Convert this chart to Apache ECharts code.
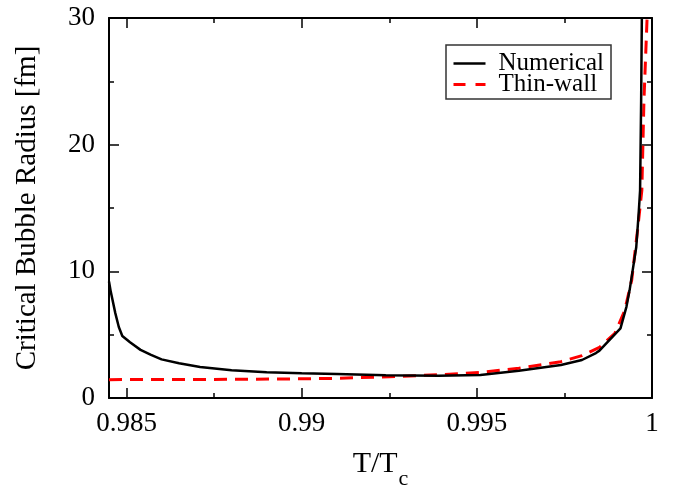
<!DOCTYPE html>
<html><head><meta charset="utf-8">
<script src="https://cdn.jsdelivr.net/npm/echarts@6/dist/echarts.min.js"></script>
<style>html,body{margin:0;padding:0;background:#fff}#c{width:675px;height:487px}</style>
</head><body><div id="c"></div>
<script>
const xMajorTicks = [0.985, 0.99, 0.995, 1];
const xMinorTicks = [0.9875, 0.9925, 0.9975];
const seriesNames = ['Numerical', 'Thin-wall'];
const numericalT = [0.9845,0.98455,0.98468,0.98478,0.98488,0.9851,0.9854,0.9857,0.986,0.9865,0.9871,0.988,0.989,0.990,0.991,0.9924,0.9939,0.9951,0.9962,0.9974,0.998,0.9984,0.9985,0.9991,0.99927,0.99936,0.99955,0.99962,0.99966,0.99969,0.99971];
const numericalR = [9.2,8.4,6.7,5.6,4.9,4.4,3.8,3.4,3.05,2.75,2.45,2.2,2.04,1.95,1.89,1.79,1.75,1.82,2.15,2.6,3.0,3.55,3.74,5.5,7.2,8.5,11.9,14.6,16.4,23.5,30];
const thinT = [0.9845,0.9871,0.9896,0.991,0.9925,0.994,0.9951,0.9962,0.9974,0.998,0.9985,0.99894,0.99922,0.99942,0.99959,0.99971,0.99977,0.99986];
const thinR = [1.45,1.46,1.5,1.55,1.68,1.85,2.02,2.35,2.87,3.35,4.0,5.1,6.9,9.3,13.3,16.4,23.5,30];

const font = 'Liberation Serif';
const chart = echarts.init(document.getElementById('c'), null, {renderer: 'canvas'});
const X0 = 0.9845, X1 = 1;
function xAx(pos, ticks, len, showLine, showLabel) {
  return {
    type: 'value', position: pos, min: X0, max: X1, gridIndex: 0,
    axisLine: {show: showLine, onZero: false, lineStyle: {color: '#000', width: 2}},
    axisTick: {show: true, inside: true, length: len, customValues: ticks, lineStyle: {color: '#000', width: 1.5}},
    axisLabel: {show: showLabel, customValues: ticks, color: '#000', fontFamily: font, fontSize: 27, margin: 12,
      formatter: v => String(+v.toFixed(4))},
    splitLine: {show: false}
  };
}
const xAxes = [
  Object.assign(xAx('bottom', xMajorTicks, 10, true, true), {
    name: '{t|T/T}{s|c}', nameLocation: 'middle', nameGap: 51,
    nameTextStyle: {color: '#000', fontFamily: font, fontSize: 30,
      rich: {
        t: {fontFamily: font, fontSize: 30, lineHeight: 30, verticalAlign: 'top', color: '#000'},
        s: {fontFamily: font, fontSize: 22, lineHeight: 22, verticalAlign: 'top', padding: [19, 0, 0, 1], color: '#000'}
      }}
  }),
  xAx('bottom', xMinorTicks, 5, false, false),
  xAx('top', xMajorTicks, 10, true, false),
  xAx('top', xMinorTicks, 5, false, false)
];
function yAx(pos, showLabel) {
  return {
    type: 'value', position: pos, min: 0, max: 30, interval: 10,
    axisLine: {show: true, onZero: false, lineStyle: {color: '#000', width: 2}},
    axisTick: {show: true, inside: true, length: 10, lineStyle: {color: '#000', width: 1.5}},
    minorTick: {show: true, splitNumber: 2, length: 5, lineStyle: {color: '#000', width: 1.5}},
    axisLabel: {show: showLabel, color: '#000', fontFamily: font, fontSize: 27, margin: 14},
    splitLine: {show: false}, minorSplitLine: {show: false}
  };
}
const yAxes = [
  Object.assign(yAx('left', true), {
    name: 'Critical Bubble Radius [fm]', nameLocation: 'middle', nameGap: 67,
    nameTextStyle: {color: '#000', fontFamily: font, fontSize: 29}
  }),
  yAx('right', false)
];
const zip = (a, b) => a.map((v, i) => [v, b[i]]);
chart.setOption({
  animation: false,
  backgroundColor: '#fff',
  grid: {left: 109, right: 23, top: 18, bottom: 89, containLabel: false, outerBoundsMode: 'none'},
  xAxis: xAxes,
  yAxis: yAxes,
  legend: {
    data: [
      {name: seriesNames[0], lineStyle: {color: '#000', width: 2.5}},
      {name: seriesNames[1], lineStyle: {color: '#ff0000', width: 3, type: [12, 10]}}
    ],
    orient: 'vertical', left: 446, top: 45,
    backgroundColor: '#fff', borderColor: '#333', borderWidth: 1.5, borderRadius: 0,
    padding: [6, 7, 2, 6], itemGap: -4, itemWidth: 32, itemHeight: 14,
    itemStyle: {color: 'rgba(0,0,0,0)', borderWidth: 0, opacity: 0},
    textStyle: {color: '#000', fontFamily: font, fontSize: 25, padding: [0, 0, 0, 8]}
  },
  series: [
    {name: seriesNames[0], type: 'line', xAxisIndex: 0, yAxisIndex: 0, data: zip(numericalT, numericalR),
     symbol: 'none', lineStyle: {color: '#000', width: 2.5}, itemStyle: {color: '#000'}, clip: true, z: 3},
    {name: seriesNames[1], type: 'line', xAxisIndex: 0, yAxisIndex: 0, data: zip(thinT, thinR),
     symbol: 'none', lineStyle: {color: '#ff0000', width: 3, type: [13, 8]}, itemStyle: {color: '#ff0000'}, clip: true, z: 2}
  ]
});
</script></body></html>
